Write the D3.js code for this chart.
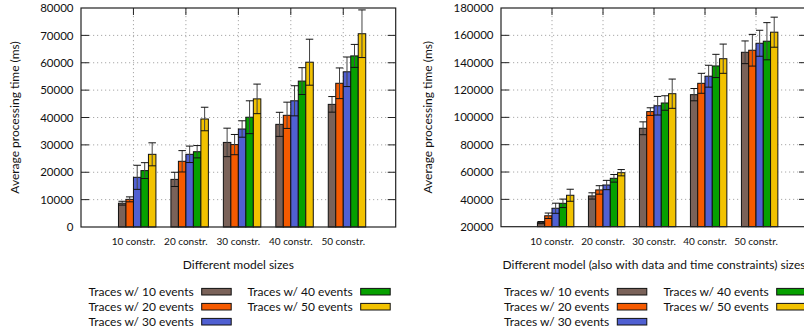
<!DOCTYPE html>
<html><head><meta charset="utf-8">
<script src="https://cdn.jsdelivr.net/npm/d3@7"></script>
<style>
html,body{margin:0;padding:0;background:#fff;}
svg{display:block;font-family:Lato,"Open Sans",sans-serif;}
</style></head>
<body>
<svg id="chart" width="804" height="332"></svg>
<script>
// ---------- data ----------
const categories = ["10 constr.", "20 constr.", "30 constr.", "40 constr.", "50 constr."];
const seriesNames = ["Traces w/ 10 events", "Traces w/ 20 events", "Traces w/ 30 events", "Traces w/ 40 events", "Traces w/ 50 events"];
const seriesColors = ["#7a6259", "#f55a00", "#5060d2", "#06a000", "#f2c200"];

// left chart: Different model sizes
const leftMeans = [
  [8700, 17400, 30900, 37500, 44800],
  [10100, 24000, 30100, 40800, 52500],
  [18150, 26550, 35800, 46100, 56700],
  [20600, 27500, 40100, 53300, 62500],
  [26550, 39450, 46800, 60200, 70600]
];
const leftErrors = [
  [700, 2600, 5200, 4400, 2850],
  [900, 3900, 3700, 4800, 5600],
  [4400, 3000, 3000, 5500, 5400],
  [2900, 2250, 6000, 4900, 4200],
  [4200, 4300, 5400, 8400, 8700]
];
const leftTicks = [0, 10000, 20000, 30000, 40000, 50000, 60000, 70000, 80000];

// right chart: with data and time constraints
const rightMeans = [
  [23000, 42500, 92000, 116600, 147600],
  [28000, 46900, 104200, 124900, 149100],
  [33500, 50500, 108500, 130100, 154200],
  [37100, 55400, 110500, 137600, 155700],
  [43000, 59500, 117300, 142900, 162300]
];
const rightErrors = [
  [800, 2300, 4700, 4500, 8300],
  [2000, 3100, 2800, 7300, 11600],
  [3700, 3400, 6800, 8000, 9500],
  [3100, 2800, 5300, 8500, 13600],
  [4400, 2300, 10700, 10700, 11000]
];
const rightTicks = [20000, 40000, 60000, 80000, 100000, 120000, 140000, 160000, 180000];

const svg = d3.select("#chart");

function drawPanel(cfg) {
  const g = svg.append("g");
  const x = d3.scaleLinear().domain([0, categories.length + 1]).range([cfg.left, cfg.right]);
  const y = d3.scaleLinear().domain(cfg.domain).range([cfg.bottom, cfg.top]);
  const w = (x(1) - x(0)) / 7;

  // grid
  g.append("g").selectAll("line.hg").data(cfg.ticks.slice(1, -1)).join("line")
    .attr("x1", cfg.left).attr("x2", cfg.right)
    .attr("y1", d => y(d)).attr("y2", d => y(d))
    .attr("stroke", "#a8a8a8").attr("stroke-width", 1).attr("stroke-dasharray", "1.2,2.8");
  g.append("g").selectAll("line.vg").data(categories).join("line")
    .attr("x1", (d, i) => x(i + 1)).attr("x2", (d, i) => x(i + 1))
    .attr("y1", cfg.top).attr("y2", cfg.bottom)
    .attr("stroke", "#a8a8a8").attr("stroke-width", 1).attr("stroke-dasharray", "1.2,2.8");

  // bars
  cfg.means.forEach((row, s) => {
    const sg = g.append("g");
    sg.selectAll("rect").data(row).join("rect")
      .attr("x", (d, i) => x(i + 1) + (s - 2) * w)
      .attr("width", w)
      .attr("y", d => y(d))
      .attr("height", d => cfg.bottom - y(d))
      .attr("fill", seriesColors[s])
      .attr("stroke", "#111").attr("stroke-width", 1);
  });
  // error bars
  cfg.means.forEach((row, s) => {
    const eg = g.append("g");
    row.forEach((v, i) => {
      const e = cfg.errors[s][i];
      const cx = x(i + 1) + (s - 2) * w + w / 2;
      eg.append("line").attr("x1", cx).attr("x2", cx)
        .attr("y1", y(v - e)).attr("y2", y(v + e))
        .attr("stroke", "#444").attr("stroke-width", 1);
      [v - e, v + e].forEach(t => {
        eg.append("line").attr("x1", cx - w / 2).attr("x2", cx + w / 2)
          .attr("y1", y(t)).attr("y2", y(t))
          .attr("stroke", "#111").attr("stroke-width", 1);
      });
    });
  });

  // frame
  g.append("rect").attr("x", cfg.left).attr("y", cfg.top)
    .attr("width", cfg.right - cfg.left).attr("height", cfg.bottom - cfg.top)
    .attr("fill", "none").attr("stroke", "#222").attr("stroke-width", 1.2);

  // y ticks (inward, mirrored)
  const tl = 8;
  g.append("g").selectAll("path").data(cfg.ticks.slice(1, -1)).join("path")
    .attr("d", d => `M${cfg.left},${y(d)}h${tl}M${cfg.right},${y(d)}h${-tl}`)
    .attr("stroke", "#222").attr("stroke-width", 1);
  // x ticks at top (inward)
  g.append("g").selectAll("path").data(categories).join("path")
    .attr("d", (d, i) => `M${x(i + 1)},${cfg.top}v${7}`)
    .attr("stroke", "#222").attr("stroke-width", 1);

  // y tick labels
  g.append("g").selectAll("text").data(cfg.ticks).join("text")
    .attr("x", cfg.left - 7.5).attr("y", d => y(d)).attr("dy", "0.36em")
    .attr("text-anchor", "end").attr("font-size", "11.5px").attr("fill", "#111")
    .text(d => d);
  // x tick labels
  g.append("g").selectAll("text").data(categories).join("text")
    .attr("x", (d, i) => x(i + 1)).attr("y", 241).attr("dy", "0.36em")
    .attr("text-anchor", "middle").attr("font-size", "10px").attr("fill", "#111")
    .text(d => d);

  // axis titles
  g.append("text").attr("x", (cfg.left + cfg.right) / 2).attr("y", 265).attr("dy", "0.36em")
    .attr("text-anchor", "middle").attr("font-size", "12px").attr("fill", "#111")
    .text(cfg.xTitle);
  g.append("text").attr("transform", `translate(${cfg.yTitleX},${(cfg.top + cfg.bottom) / 2}) rotate(-90)`)
    .attr("dy", "0.36em").attr("text-anchor", "middle").attr("font-size", "12px").attr("fill", "#111")
    .text("Average processing time (ms)");

  // legend
  const rows = [291.7, 306.7, 321.7];
  seriesNames.forEach((name, s) => {
    const col = s < 3 ? 0 : 1;
    const row = s < 3 ? s : s - 3;
    const sx = cfg.legendX[col];
    const yy = rows[row];
    g.append("text").attr("x", sx - 8).attr("y", yy).attr("dy", "0.36em")
      .attr("text-anchor", "end").attr("font-size", "12px").attr("fill", "#111").text(name);
    g.append("rect").attr("x", sx).attr("y", yy - 3.3).attr("width", 29.5).attr("height", 6.6)
      .attr("fill", seriesColors[s]).attr("stroke", "#111").attr("stroke-width", 1);
  });
}

drawPanel({
  left: 81, right: 395.7, top: 8, bottom: 227,
  domain: [0, 80000], ticks: leftTicks,
  means: leftMeans, errors: leftErrors,
  xTitle: "Different model sizes", yTitleX: 15,
  legendX: [201.7, 360.7]
});
drawPanel({
  left: 501, right: 807, top: 8, bottom: 226.7,
  domain: [20000, 180000], ticks: rightTicks,
  means: rightMeans, errors: rightErrors,
  xTitle: "Different model (also with data and time constraints) sizes", yTitleX: 428,
  legendX: [617.3, 776.7]
});
</script>
</body></html>
